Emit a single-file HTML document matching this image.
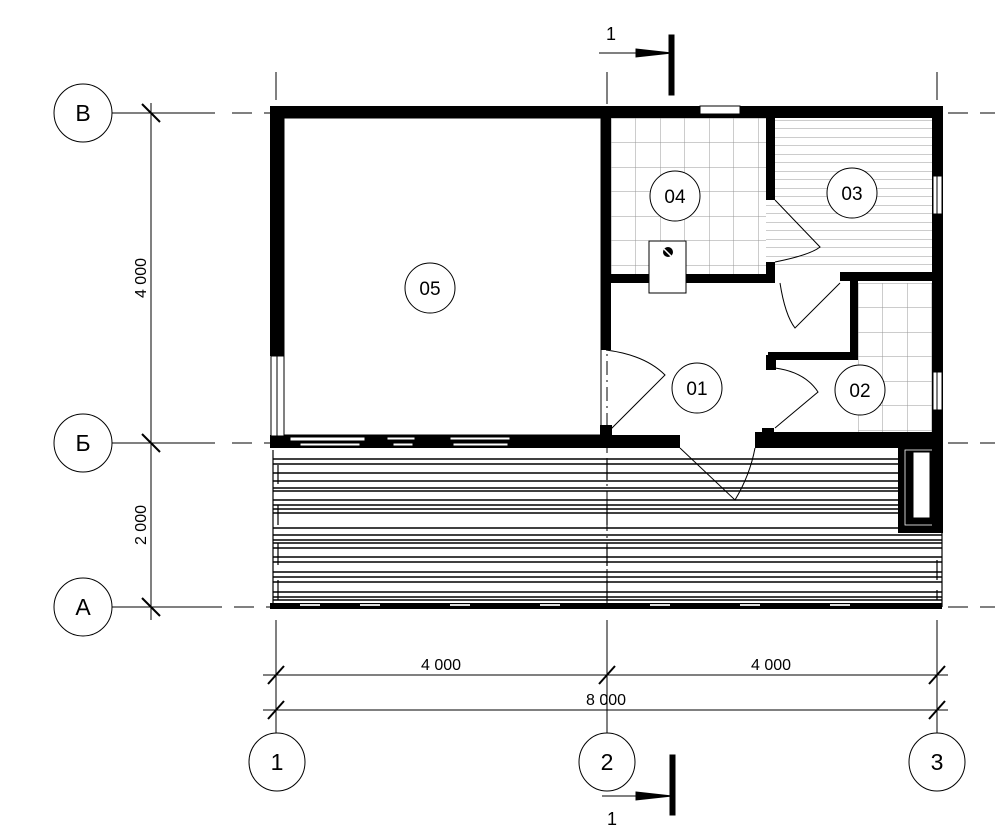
<!DOCTYPE html>
<html><head><meta charset="utf-8"><style>html,body{margin:0;padding:0;background:#fff}svg{display:block}</style></head><body>
<svg width="1000" height="838" viewBox="0 0 1000 838" xmlns="http://www.w3.org/2000/svg" font-family="Liberation Sans, sans-serif">
<defs>
<pattern id="tile" x="611" y="118" width="24.5" height="24.5" patternUnits="userSpaceOnUse"><path d="M0 0H24.5M0 0V24.5" stroke="#999" stroke-width="1" fill="none"/></pattern>
<pattern id="tile2" x="858" y="283" width="24.5" height="24.5" patternUnits="userSpaceOnUse"><path d="M0 0H24.5M0 0V24.5" stroke="#999" stroke-width="1" fill="none"/></pattern>
<pattern id="hl" x="0" y="120" width="10" height="8.5" patternUnits="userSpaceOnUse"><path d="M0 0H10" stroke="#999" stroke-width="1"/></pattern>
</defs>
<rect x="611" y="118" width="155" height="156" fill="url(#tile)"/>
<rect x="858" y="283" width="74" height="149" fill="url(#tile2)"/>
<rect x="766" y="118" width="166" height="154" fill="url(#hl)"/>

<g stroke="#000" stroke-width="1" fill="none">
<line x1="112" y1="113" x2="215" y2="113"/><line x1="112" y1="443" x2="215" y2="443"/><line x1="112" y1="607" x2="215" y2="607"/>
<g stroke-dasharray="20,12"><line x1="232" y1="113" x2="270" y2="113"/><line x1="232" y1="443" x2="270" y2="443"/><line x1="170" y1="607" x2="270" y2="607"/>
<line x1="948" y1="113" x2="995" y2="113"/><line x1="948" y1="443" x2="995" y2="443"/><line x1="948" y1="607" x2="995" y2="607"/></g>
<line x1="276" y1="72" x2="276" y2="100"/><line x1="607" y1="72" x2="607" y2="104"/><line x1="937" y1="72" x2="937" y2="100"/>
<line x1="276" y1="620" x2="276" y2="733"/><line x1="607" y1="620" x2="607" y2="733"/><line x1="937" y1="620" x2="937" y2="733"/>
<line x1="607" y1="283" x2="607" y2="610" stroke-dasharray="14,5,2,5"/>
<line x1="151" y1="103" x2="151" y2="620"/>
<line x1="142" y1="104" x2="160" y2="122" stroke-width="2"/><line x1="142" y1="434" x2="160" y2="452" stroke-width="2"/><line x1="142" y1="598" x2="160" y2="616" stroke-width="2"/>
<line x1="263" y1="675" x2="948" y2="675"/><line x1="263" y1="710" x2="948" y2="710"/>
<g stroke-width="2"><line x1="268" y1="684" x2="284" y2="666"/><line x1="599" y1="684" x2="615" y2="666"/><line x1="929" y1="684" x2="945" y2="666"/>
<line x1="268" y1="719" x2="284" y2="701"/><line x1="929" y1="719" x2="945" y2="701"/></g>
</g>
<g font-size="16" fill="#000" text-anchor="middle">
<text x="146" y="278" transform="rotate(-90 146 278)">4 000</text>
<text x="146" y="525" transform="rotate(-90 146 525)">2 000</text>
<text x="441" y="670">4 000</text><text x="771" y="670">4 000</text><text x="606" y="705">8 000</text>
</g>
<g fill="#fff" stroke="#000" stroke-width="1">
<circle cx="83" cy="113" r="29"/><circle cx="83" cy="443" r="29"/><circle cx="83" cy="607" r="29"/>
<ellipse cx="277" cy="762" rx="28" ry="29"/><ellipse cx="607" cy="762" rx="28" ry="29"/><ellipse cx="937" cy="762" rx="28" ry="29"/>
</g>
<g font-size="23" text-anchor="middle" fill="#000">
<text x="83" y="121">В</text><text x="83" y="451">Б</text><text x="83" y="615">А</text>
<text x="277" y="770">1</text><text x="607" y="770">2</text><text x="937" y="770">3</text>
</g>
<g stroke="#000" fill="#000">
<line x1="599" y1="53" x2="650" y2="53"/><path d="M636 49 L672 53 L636 57Z"/><rect x="669" y="35" width="5" height="60"/>
<line x1="602" y1="796" x2="650" y2="796"/><path d="M636 792 L672 796 L636 800Z"/><rect x="670" y="755" width="5" height="60"/>
</g>
<text x="611" y="40" font-size="18" text-anchor="middle">1</text>
<text x="612" y="825" font-size="18" text-anchor="middle">1</text>

<g stroke="#000" stroke-width="1.6">
<path d="M273 459H898M273 464H898M273 473H898M273 481H898M273 488H898M273 491H898M273 500H898M273 505H898M273 509H898M273 513H898M273 528H898"/>
<path d="M273 535H942M273 540H942M273 543H942M273 548H942M273 557H942M273 562H942M273 572H942M273 577H942M273 582H942M273 592H942M273 597H942M273 600H942"/>
<path d="M273 450V607M942 533V607M278 465V484M278 505V525M278 543V565M278 580V600M607 460V480M607 505V525M607 545V566M607 580V600M937 560V580M937 590V600" stroke-width="1.2"/>
</g>
<rect x="270" y="603" width="672" height="6" fill="#000"/>
<g fill="#ddd"><rect x="300" y="604" width="20" height="2"/><rect x="360" y="604" width="20" height="2"/><rect x="450" y="604" width="20" height="2"/><rect x="540" y="604" width="20" height="2"/><rect x="650" y="604" width="20" height="2"/><rect x="740" y="604" width="20" height="2"/><rect x="830" y="604" width="20" height="2"/></g>

<rect x="898" y="448" width="45" height="85" fill="#000"/>
<rect x="913" y="452" width="17" height="66" fill="#fff" stroke="#000"/>
<rect x="905" y="450" width="30" height="75" fill="none" stroke="#fff" stroke-width="0.8"/>

<g fill="#000">
<rect x="270" y="106" width="673" height="12"/>
<rect x="270" y="106" width="14" height="250"/>
<rect x="932" y="106" width="11" height="427"/>
<rect x="270" y="435" width="410" height="13"/>
<rect x="755" y="432" width="188" height="16"/>
<rect x="601" y="118" width="10" height="232"/>
<rect x="601" y="274" width="174" height="9"/>
<rect x="766" y="118" width="9" height="82"/>
<rect x="766" y="262" width="9" height="21"/>
<rect x="840" y="272" width="92" height="9"/>
<rect x="850" y="272" width="8" height="88"/>
<rect x="768" y="352" width="90" height="8"/>
<rect x="600" y="425" width="12" height="12"/>
<rect x="762" y="428" width="12" height="8"/>
<rect x="766" y="355" width="10" height="15"/>
</g>
<g fill="#fff" stroke="#000" stroke-width="1">
<rect x="271" y="356" width="13" height="80"/>
<line x1="277" y1="356" x2="277" y2="436"/>
<rect x="700" y="106" width="40" height="8"/>
<rect x="933" y="176" width="9" height="38"/><rect x="933" y="372" width="9" height="38"/>
<line x1="937" y1="176" x2="937" y2="214"/><line x1="937" y1="372" x2="937" y2="410"/>
<rect x="290" y="437" width="75" height="4"/><rect x="300" y="443" width="60" height="3"/>
<rect x="387" y="437" width="28" height="3"/><rect x="393" y="443" width="20" height="3"/>
<rect x="450" y="437" width="60" height="3"/><rect x="453" y="443" width="55" height="3"/>
</g>
<rect x="284" y="118" width="317" height="317" fill="none" stroke="#000" stroke-width="1"/>

<g fill="none" stroke="#000" stroke-width="1">
<path d="M606 350 Q645 355 665 375 L610 430"/>
<path d="M775 262 Q810 255 820 247 L775 200"/>
<path d="M780 283 Q785 315 795 328 L840 283"/>
<path d="M775 368 Q805 372 818 392 L775 428"/>
<path d="M680 448 L735 500 Q750 475 755 448"/>
</g>
<rect x="649" y="241" width="37" height="52" fill="#fff" stroke="#000"/>
<circle cx="668" cy="252" r="5" fill="#000"/><path d="M664 249 L671 256" stroke="#fff" stroke-width="1.5"/>

<g fill="#fff" stroke="#000" stroke-width="1">
<circle cx="675" cy="196" r="25"/><circle cx="852" cy="193" r="25"/><circle cx="430" cy="288" r="25"/><circle cx="697" cy="388" r="25"/><circle cx="860" cy="390" r="25"/>
</g>
<g font-size="19" text-anchor="middle" fill="#000">
<text x="675" y="203">04</text><text x="852" y="200">03</text><text x="430" y="295">05</text><text x="697" y="395">01</text><text x="860" y="397">02</text>
</g>
</svg>
</body></html>
